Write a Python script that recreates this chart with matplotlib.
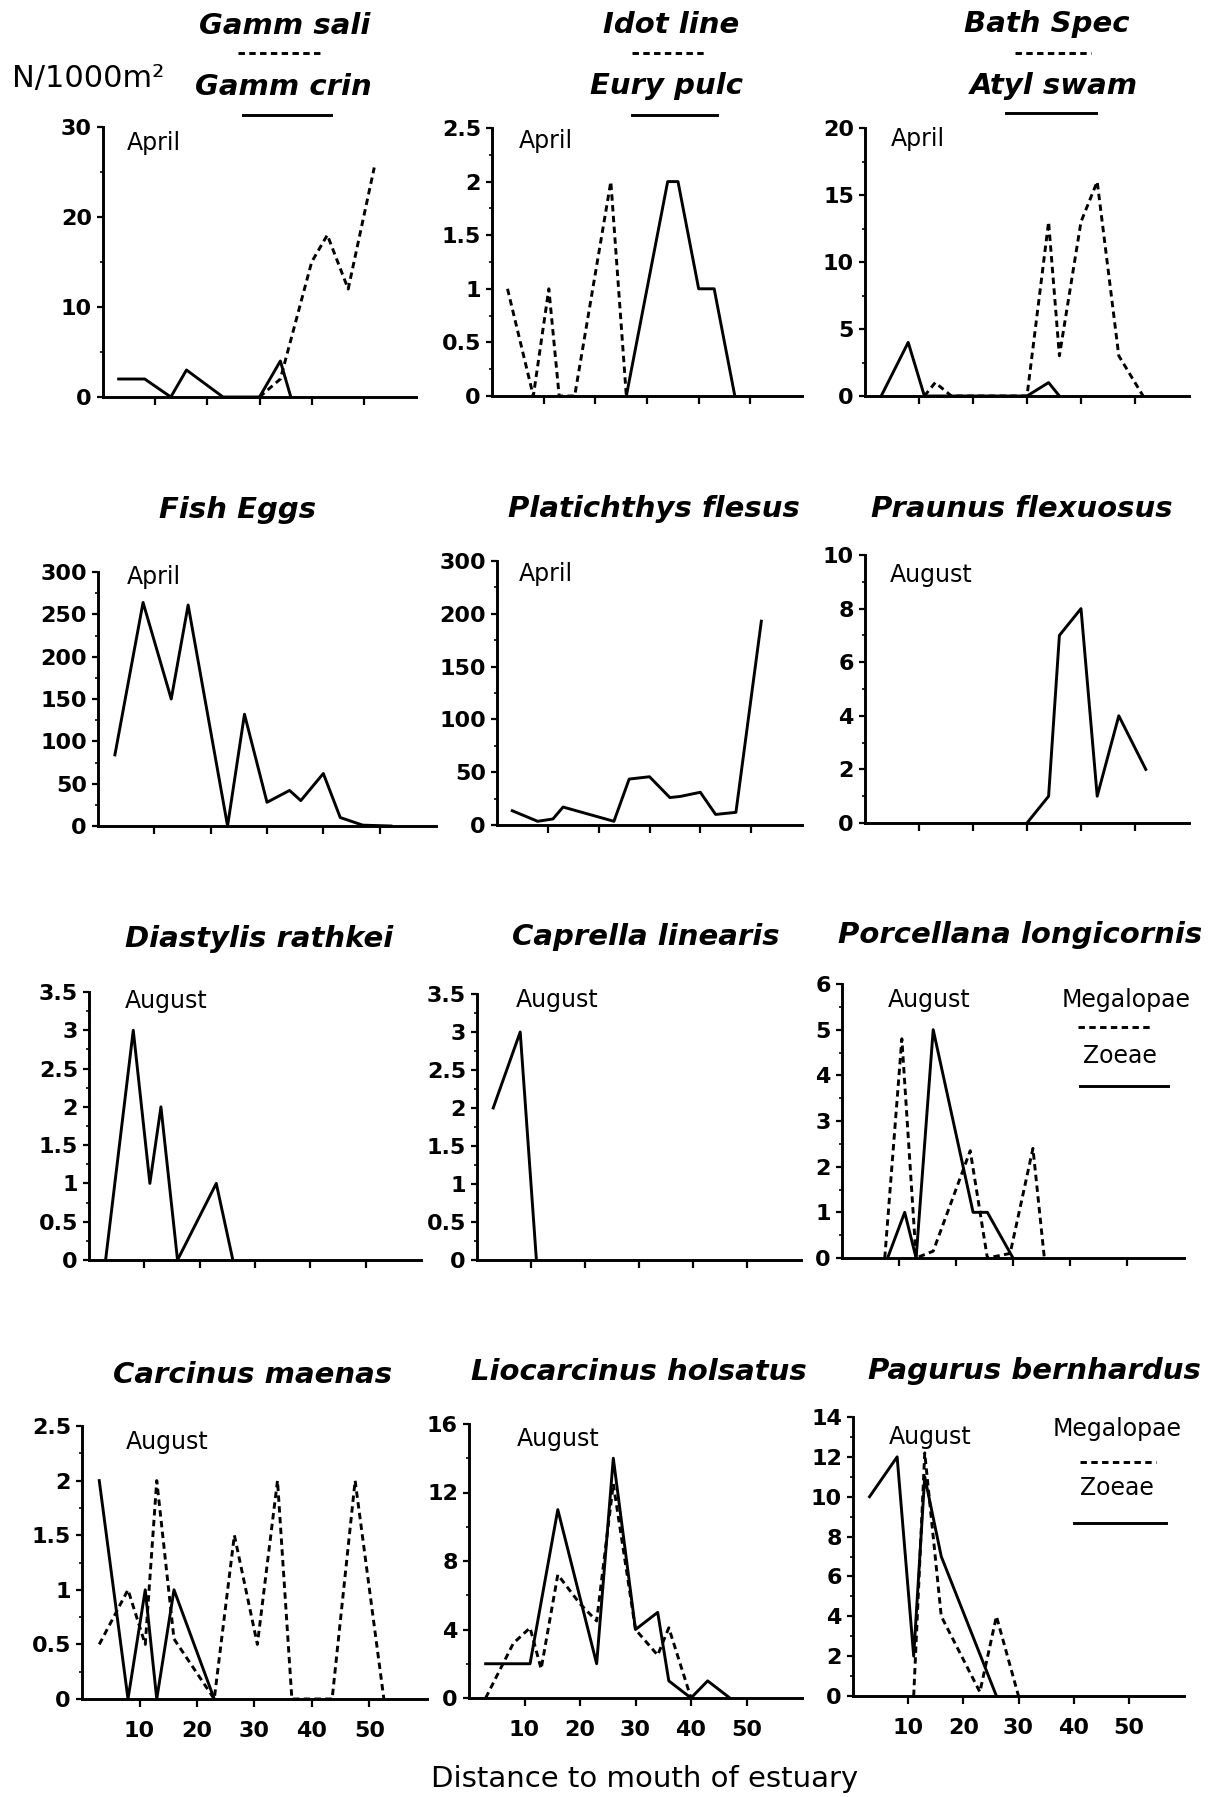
import numpy as np
import matplotlib
matplotlib.use('Agg')
import matplotlib.pyplot as plt
from matplotlib.lines import Line2D

# Abundance (N/1000m2) against distance to the estuary mouth (km)
gamm_sali_x = [30, 34, 40, 43, 47, 52]
gamm_sali_y = [0, 2, 15, 18, 12, 25.5]
gamm_crin_x = [3, 8, 13, 16, 23, 30, 34, 36]
gamm_crin_y = [2, 2, 0, 3, 0, 0, 4, 0]

idot_line_x = [3, 8, 11, 13, 16, 23, 26]
idot_line_y = [1, 0, 1, 0, 0, 2, 0]
eury_pulc_x = [26, 34, 36, 40, 43, 47]
eury_pulc_y = [0, 2, 2, 1, 1, 0]

bath_spec_x = [11, 13, 16, 30, 34, 36, 40, 43, 47, 51.5]
bath_spec_y = [0, 1, 0, 0, 13, 3, 13, 16, 3, 0]
atyl_swam_x = [3, 8, 11, 30, 34, 36]
atyl_swam_y = [0, 4, 0, 0, 1, 0]

fish_eggs_x = [3, 8, 13, 16, 23, 26, 30, 34, 36, 40, 43, 47, 52]
fish_eggs_y = [84, 264, 150, 261, 0, 132, 28, 42, 30, 62, 10, 1, 0]

platichthys_x = [3, 8, 11, 13, 23, 26, 30, 34, 36, 40, 43, 47, 52]
platichthys_y = [13.5, 3.5, 5.7, 17, 3.5, 43.5, 45.7, 26, 27, 31, 10, 12, 193]
platichthys_yticklabels = ['0', '50', '100', '150', '200', '300']

praunus_x = [30, 34, 36, 40, 43, 47, 52]
praunus_y = [0, 1, 7, 8, 1, 4, 2]

diastylis_x = [3, 8, 11, 13, 16, 23, 26]
diastylis_y = [0, 3, 1, 2, 0, 1, 0]

caprella_x = [3, 8, 11]
caprella_y = [2, 3, 0]

porcellana_zoe_x = [8, 11, 13, 16, 23, 25.5, 30]
porcellana_zoe_y = [0, 1, 0, 5, 1, 1, 0]
porcellana_meg_x = [7.5, 10.5, 13, 16, 22.5, 25.5, 29.5, 33.5, 35.5]
porcellana_meg_y = [0, 4.8, 0, 0.15, 2.35, 0, 0.1, 2.4, 0]

carcinus_zoe_x = [3, 8, 11, 13, 16, 23]
carcinus_zoe_y = [2, 0, 1, 0, 1, 0]
carcinus_meg_x = [3, 8, 11, 13, 16, 23, 26.5, 30.5, 34, 36.5, 43.5, 47.5, 52.5]
carcinus_meg_y = [0.5, 1, 0.5, 2, 0.55, 0, 1.5, 0.5, 2, 0, 0, 2, 0]

liocarcinus_zoe_x = [3, 8, 11, 16, 23, 26, 30, 34, 36, 40, 43, 47]
liocarcinus_zoe_y = [2, 2, 2, 11, 2, 14, 4, 5, 1, 0, 1, 0]
liocarcinus_meg_x = [3, 8, 11, 13, 16, 20, 23, 26, 30, 34, 36, 40]
liocarcinus_meg_y = [0, 3.2, 4.1, 1.7, 7.2, 5.5, 4.5, 12.5, 4, 2.5, 4.1, 0]

pagurus_zoe_x = [3, 8, 11, 13, 16, 26]
pagurus_zoe_y = [10, 12, 2, 11, 7, 0]
pagurus_meg_x = [11, 13, 16, 23, 26, 30]
pagurus_meg_y = [0, 12.2, 4, 0.2, 4, 0]

distance_ticks = [10, 20, 30, 40, 50]

W, H = 1219, 1797
LW = 2.1
DASH = (2.2, 1.5)

fig = plt.figure(figsize=(W / 100, H / 100), dpi=100)


def fx(x):
    return x / W


def fy(y):
    return 1 - y / H


def panel(box, series, ymax, ystep, yminor, month, month_xy, title=None,
          title_xy=None, yticklabels=None, xlabels=False):
    l, t, r, b = box
    ax = fig.add_axes([fx(l), fy(b), (r - l) / W, (b - t) / H])
    for xs, ys, dashed in series:
        if dashed:
            ax.plot(xs, ys, color='black', lw=LW, dashes=DASH, clip_on=False)
        else:
            ax.plot(xs, ys, color='black', lw=LW, clip_on=False)
    ax.set_xlim(0, 60)
    ax.set_ylim(0, ymax)
    for side in ['top', 'right']:
        ax.spines[side].set_visible(False)
    for side in ['left', 'bottom']:
        ax.spines[side].set_linewidth(LW)

    yt = np.arange(0, ymax + ystep / 2, ystep)
    ax.set_yticks(yt)
    if yticklabels is None:
        yticklabels = ['%g' % v for v in yt]
    ax.set_yticklabels(yticklabels, fontweight='bold', fontsize=16)
    ax.set_yticks(np.arange(0, ymax + yminor / 2, yminor), minor=True)
    ax.tick_params(axis='y', which='major', direction='out', length=4,
                   width=1.6, pad=4)
    ax.tick_params(axis='y', which='minor', direction='out', length=2.5,
                   width=1.2)

    ax.set_xticks(distance_ticks)
    if xlabels:
        ax.set_xticklabels([str(v) for v in distance_ticks],
                           fontweight='bold', fontsize=16)
    else:
        ax.set_xticklabels([])
    ax.tick_params(axis='x', direction='out', length=6, width=1.6, pad=10)

    fig.text(fx(month_xy[0]), fy(month_xy[1]), month, fontsize=17,
             ha='left', va='top')
    if title is not None:
        fig.text(fx(title_xy[0]), fy(title_xy[1]), title, fontsize=21,
                 fontweight='bold', fontstyle='italic', ha='center',
                 va='center')
    return ax


def key_line(x0, x1, y, dashed):
    line = Line2D([fx(x0), fx(x1)], [fy(y), fy(y)], color='black', lw=LW,
                  transform=fig.transFigure)
    if dashed:
        line.set_dashes(DASH)
    fig.add_artist(line)


def species_key(name, xy, dashed, x0, x1, y):
    fig.text(fx(xy[0]), fy(xy[1]), name, fontsize=21, fontweight='bold',
             fontstyle='italic', ha='center', va='center')
    key_line(x0, x1, y, dashed)


def stage_key(name, xy, dashed, x0, x1, y):
    fig.text(fx(xy[0]), fy(xy[1]), name, fontsize=17, ha='center',
             va='center')
    key_line(x0, x1, y, dashed)


# row 1: April, paired species
panel((103, 127, 416, 397),
      [(gamm_sali_x, gamm_sali_y, True), (gamm_crin_x, gamm_crin_y, False)],
      30, 10, 5, 'April', (127, 131))
species_key('Gamm sali', (285, 26), True, 238, 322, 53)
species_key('Gamm crin', (283, 87), False, 243, 331, 115)
fig.text(fx(88), fy(78), 'N/1000m²', fontsize=22, ha='center', va='center')

panel((492, 128, 802, 396),
      [(idot_line_x, idot_line_y, True), (eury_pulc_x, eury_pulc_y, False)],
      2.5, 0.5, 0.25, 'April', (519, 129))
species_key('Idot line', (671, 25), True, 632, 707, 53)
species_key('Eury pulc', (667, 86), False, 632, 717, 115)

panel((865, 128, 1189, 396),
      [(bath_spec_x, bath_spec_y, True), (atyl_swam_x, atyl_swam_y, False)],
      20, 5, 2.5, 'April', (891, 127))
species_key('Bath Spec', (1047, 24), True, 1015, 1091, 53)
species_key('Atyl swam', (1054, 86), False, 1006, 1096, 113)

# row 2
panel((98, 572, 436, 826), [(fish_eggs_x, fish_eggs_y, False)],
      300, 50, 25, 'April', (127, 565), 'Fish Eggs', (238, 510))
panel((497, 561, 802, 825), [(platichthys_x, platichthys_y, False)],
      250, 50, 25, 'April', (519, 562), 'Platichthys flesus', (654, 509),
      yticklabels=platichthys_yticklabels)
panel((865, 555, 1189, 823), [(praunus_x, praunus_y, False)],
      10, 2, 1, 'August', (890, 563), 'Praunus flexuosus', (1022, 509))

# row 3
panel((89, 992, 421, 1260), [(diastylis_x, diastylis_y, False)],
      3.5, 0.5, 0.25, 'August', (125, 989), 'Diastylis rathkei', (259, 939))
panel((477, 994, 801, 1260), [(caprella_x, caprella_y, False)],
      3.5, 0.5, 0.25, 'August', (516, 988), 'Caprella linearis', (646, 937))
panel((842, 984, 1184, 1258),
      [(porcellana_meg_x, porcellana_meg_y, True),
       (porcellana_zoe_x, porcellana_zoe_y, False)],
      6, 1, 0.5, 'August', (888, 988), 'Porcellana longicornis', (1020, 935))
stage_key('Megalopae', (1126, 1000), True, 1078, 1153, 1027)
stage_key('Zoeae', (1120, 1056), False, 1080, 1168, 1086)

# row 4
panel((82, 1426, 427, 1699),
      [(carcinus_meg_x, carcinus_meg_y, True),
       (carcinus_zoe_x, carcinus_zoe_y, False)],
      2.5, 0.5, 0.25, 'August', (126, 1430), 'Carcinus maenas', (253, 1375),
      xlabels=True)
panel((469, 1424, 802, 1698),
      [(liocarcinus_meg_x, liocarcinus_meg_y, True),
       (liocarcinus_zoe_x, liocarcinus_zoe_y, False)],
      16, 4, 2, 'August', (517, 1427), 'Liocarcinus holsatus', (639, 1372),
      xlabels=True)
panel((853, 1417, 1184, 1696),
      [(pagurus_meg_x, pagurus_meg_y, True),
       (pagurus_zoe_x, pagurus_zoe_y, False)],
      14, 2, 1, 'August', (889, 1425), 'Pagurus bernhardus', (1034, 1371),
      xlabels=True)
stage_key('Megalopae', (1117, 1429), True, 1080, 1156, 1462)
stage_key('Zoeae', (1117, 1488), False, 1074, 1166, 1523)

fig.text(fx(645), fy(1779), 'Distance to mouth of estuary', fontsize=21,
         ha='center', va='center')

fig.savefig('out.png', dpi=100, facecolor='white')
